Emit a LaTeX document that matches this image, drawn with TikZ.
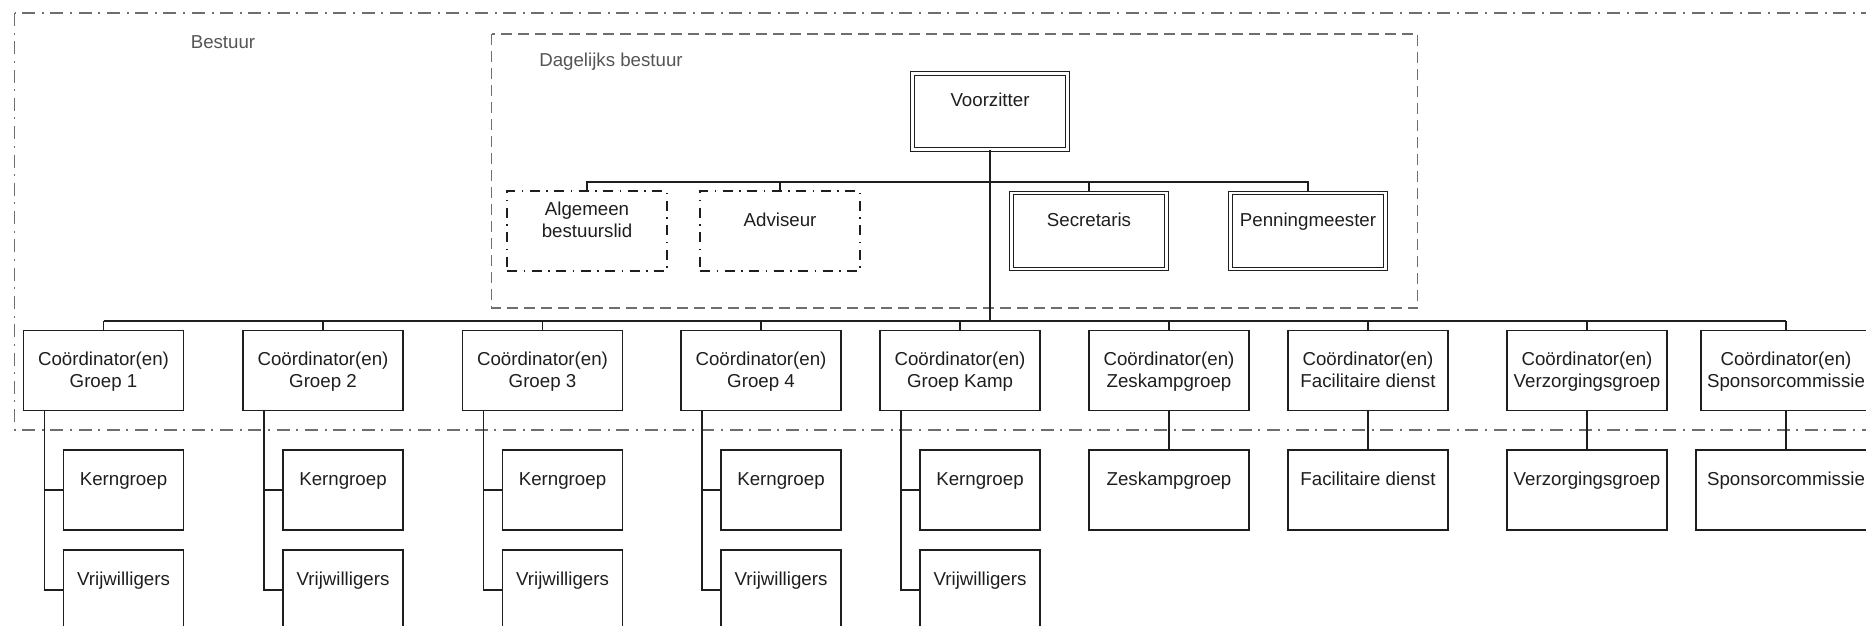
\documentclass[tikz,border=0pt]{standalone}
\usepackage{fontspec}
\setmainfont{Liberation Sans}
\definecolor{ink}{HTML}{1E1E1E}
\definecolor{grp}{HTML}{6E6E6E}
\definecolor{lbl}{HTML}{555555}
\newcommand\ftop{\rule{0pt}{17.4pt}}
\newcommand\fbot{\rule[-4.6pt]{0pt}{4.6pt}}
\begin{document}
\begin{tikzpicture}[x=1pt,y=-1pt,
  every node/.style={font=\fontsize{18.7pt}{22pt}\selectfont, text=ink, align=center, inner sep=0pt},
  box/.style={draw=ink, line width=1.3pt, rectangle, minimum width=160pt, minimum height=80pt},
  sub/.style={box, minimum width=120pt},
  dbl/.style={draw=ink, line width=1.1pt, double=white, double distance=2.6pt, rectangle, minimum width=155.5pt, minimum height=76pt},
  dashdotbox/.style={box, dash pattern=on 10pt off 6.5pt on 1.5pt off 6.5pt},
  grpline/.style={draw=grp, line width=1.3pt},
  grplabel/.style={text=lbl},
  conn/.style={draw=ink, line width=1.4pt},
]
\path[use as bounding box] (0,0) rectangle (1866,625);
\begin{scope}
\clip (0,0) rectangle (1866,625);

% group borders
\draw[grpline, dash pattern=on 13pt off 6.5pt on 2pt off 6.8pt] (14.5,13) rectangle (1900,430);
\node[grplabel] (bestuur) at (223,42) {Bestuur};
\draw[grpline, dash pattern=on 11pt off 6pt] (491.5,34) rectangle (1417.5,308);
\node[grplabel] (dblabel) at (611,62) {Dagelijks bestuur};

% dagelijks bestuur
\node[dbl] (voorz) at (990,111.5) {\ftop Voorzitter\\\fbot};
\node[dashdotbox] (alg) at (587,231) {\ftop Algemeen\\bestuurslid\\\fbot};
\node[dashdotbox] (adv) at (780,231) {\ftop Adviseur\\\fbot};
\node[dbl] (secr) at (1089,231) {\ftop Secretaris\\\fbot};
\node[dbl] (penn) at (1308,231) {\ftop Penningmeester\\\fbot};

\coordinate (dbbus) at (990,182);
\draw[conn] (alg.north) -- (alg.north |- dbbus) -- (penn.north |- dbbus) -- (penn.north);
\draw[conn] (adv.north) -- (adv.north |- dbbus);
\draw[conn] (secr.north) -- (secr.north |- dbbus);

% coordinators
\foreach \n/\x/\t in {1/103.5/Groep 1, 2/323/Groep 2, 3/542.5/Groep 3, 4/761/Groep 4, 5/960/Groep Kamp, 6/1169/Zeskampgroep, 7/1368/Facilitaire dienst, 8/1587/Verzorgingsgroep}
  \node[box] (c\n) at (\x,370.5) {\ftop Coördinator(en)\\\t\fbot};
\node[box, minimum width=170pt] (c9) at (1786,370.5) {\ftop Coördinator(en)\\Sponsorcommissie\fbot};

\coordinate (mainbus) at (990,321);
\draw[conn] (voorz.south) -- (voorz.south |- mainbus);
\draw[conn] (c1.north |- mainbus) -- (c9.north |- mainbus);
\foreach \n in {1,...,9}
  \draw[conn] (c\n.north) -- (c\n.north |- mainbus);

% groups with kerngroep and vrijwilligers
\foreach \n/\x in {1/123.5, 2/343, 3/562.5, 4/781, 5/980} {
  \node[sub] (k\n) at (\x,490) {\ftop Kerngroep\\\fbot};
  \node[sub] (v\n) at (\x,590) {\ftop Vrijwilligers\\\fbot};
  \coordinate (t\n) at ([xshift=-59pt]c\n.south);
  \draw[conn] (t\n) |- (v\n.west);
  \draw[conn] (k\n.west) -- (k\n.west -| t\n);
}

% single sub-boxes
\node[box] (l6) at (1169,490) {\ftop Zeskampgroep\\\fbot};
\node[box] (l7) at (1368,490) {\ftop Facilitaire dienst\\\fbot};
\node[box] (l8) at (1587,490) {\ftop Verzorgingsgroep\\\fbot};
\node[box, minimum width=180pt] (l9) at (1786,490) {\ftop Sponsorcommissie\\\fbot};
\foreach \n in {6,7,8,9}
  \draw[conn] (c\n.south) -- (l\n.north);
\end{scope}
\end{tikzpicture}
\end{document}
